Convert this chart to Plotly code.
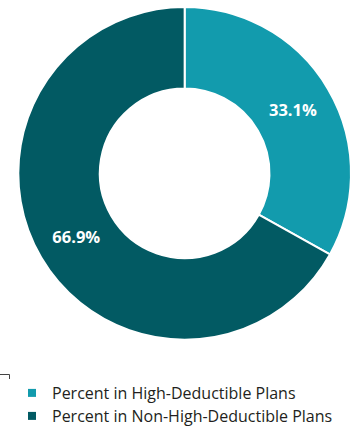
import plotly.graph_objects as go

# Share of enrollees by plan type
labels = ["Percent in High-Deductible Plans", "Percent in Non-High-Deductible Plans"]
values = [33.1, 66.9]
colors = ["#129BAD", "#025A63"]

W, H = 360, 426

fig = go.Figure()

fig.add_trace(go.Pie(
    labels=labels,
    values=values,
    hole=0.51,
    sort=False,
    direction="clockwise",
    rotation=0,
    marker=dict(colors=colors, line=dict(color="white", width=2)),
    texttemplate="%{value:.1f}%",
    textposition="inside",
    insidetextorientation="horizontal",
    textfont=dict(family="Open Sans", size=16.5, color="white", weight="bold"),
    showlegend=False,
    domain=dict(x=[18.3 / W, 351 / W], y=[1 - 340 / H, 1 - 6.7 / H]),
))

# Legend entries with small square swatches, one legend box per row
legend_ids = ["legend", "legend2"]
for name, col, lid in zip(labels, colors, legend_ids):
    fig.add_trace(go.Scatter(
        x=[None], y=[None], mode="markers", name=name,
        marker=dict(symbol="square", size=8, color=col),
        showlegend=True, legend=lid,
    ))

# Small corner bracket at the lower left
fig.add_shape(type="path", xref="paper", yref="paper",
              path=f"M 0 {1 - 374.5 / H} L {9.5 / W} {1 - 374.5 / H} L {9.5 / W} {1 - 379 / H}",
              line=dict(color="#444444", width=1))

legend_style = dict(
    x=12 / W, xanchor="left", yanchor="middle",
    font=dict(family="Open Sans", size=16, color="#231F20"),
    itemsizing="trace", bgcolor="rgba(0,0,0,0)",
)

fig.update_layout(
    width=W, height=H,
    margin=dict(l=0, r=0, t=0, b=0, autoexpand=False),
    paper_bgcolor="white",
    plot_bgcolor="white",
    xaxis=dict(visible=False),
    yaxis=dict(visible=False),
    legend=dict(y=1 - 393 / H, **legend_style),
    legend2=dict(y=1 - 416 / H, **legend_style),
)

fig.write_html("out.html")
